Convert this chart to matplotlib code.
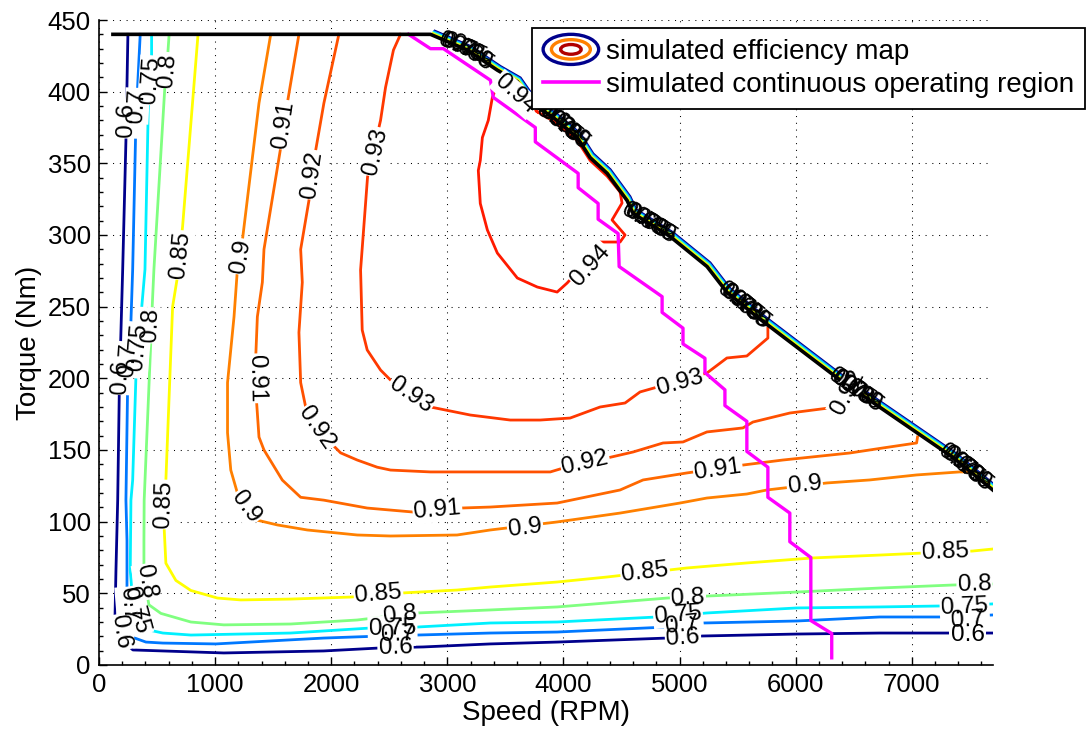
import numpy as np
import matplotlib
matplotlib.use("Agg")
import matplotlib.pyplot as plt
from matplotlib.patches import Ellipse
from matplotlib.legend_handler import HandlerBase
from matplotlib.lines import Line2D
from matplotlib.transforms import ScaledTranslation
from matplotlib.ticker import MultipleLocator

plt.rcParams['font.family'] = ['Liberation Sans', 'DejaVu Sans']

# ---------------------------------------------------------------- data
levels = [0.6, 0.7, 0.75, 0.8, 0.85, 0.9, 0.91, 0.92, 0.93, 0.94]

# efficiency iso-lines (speed in RPM, torque in Nm)
speed_060 = [249, 232, 204, 175, 161, 146, 138, 163, 258, 292, 550, 1075, 1935, 2425, 2794,
             3370, 3946, 4892, 5176, 6010, 6724, 7351, 7695]
torque_060 = [440, 366, 276, 192, 115, 66, 34, 21, 13, 10.5, 9.8, 8.4, 9.8, 11.9, 12.6,
              14.7, 16.0, 18.8, 20.2, 21.6, 22.3, 22.3, 22.3]

speed_070 = [355, 318, 290, 269, 247, 232, 241, 241, 258, 301, 404, 550, 1006, 1935, 2425,
             3370, 3946, 4892, 5202, 6010, 6724, 7351, 7695]
torque_070 = [440, 380, 276, 225, 197, 115, 87, 45, 28, 19, 16, 15.3, 14.7, 18.8, 20.2,
              22.3, 23.0, 26.5, 29.3, 30.7, 33.5, 33.5, 34.9]

speed_075 = [453, 453, 424, 396, 361, 318, 290, 275, 269, 290, 340, 430, 550, 791, 1651,
             2339, 2743, 3370, 3946, 4806, 5236, 6010, 6724, 7265, 7695]
torque_075 = [440, 422, 387, 276, 243, 201, 129, 115, 66, 45, 30, 24.4, 22.3, 20.9, 22.3,
              25.8, 26.5, 29.3, 30.0, 33.5, 36.3, 39.8, 40.5, 41.2, 42.6]

speed_080 = [604, 593, 567, 473, 461, 447, 389, 387, 387, 430, 533, 791, 1075, 1651, 2224,
             2740, 3370, 3946, 4376, 4892, 5236, 6010, 6724, 7351, 7695]
torque_080 = [440, 427, 403, 276, 255, 227, 115, 87, 61, 42, 36, 30, 28, 28.6, 31.4,
              36.3, 38.4, 40.5, 43.3, 46.7, 48.1, 50.9, 53.7, 55.8, 56.5]

speed_085 = [853, 720, 676, 634, 576, 562, 576, 662, 791, 1021, 1221, 1651, 2167, 2597, 3084,
             3370, 3946, 4376, 5064, 5580, 6148, 6724, 7093, 7523, 7695]
torque_085 = [440, 306, 271, 250, 129, 94, 71, 59, 52, 46.7, 45.4, 46, 47.4, 50.2, 52.3,
              54.4, 57.9, 61.4, 67.7, 71.2, 74.7, 76.7, 78.1, 79.5, 80.9]

speed_090 = [1479, 1378, 1236, 1192, 1163, 1107, 1107, 1135, 1192, 1365, 1537, 1794, 2224,
             2511, 3084, 3370, 3946, 4488, 5004, 5236, 5580, 5752, 6268, 6638, 7042, 7411, 7520]
torque_090 = [440, 392, 297, 276, 243, 197, 162, 136, 120, 101, 97.7, 94.2, 90.7,
              90, 90.7, 94.2, 99.8, 106, 113, 116.5, 119.3, 122.1, 127, 129.1, 132.6, 134.7, 134.7]

speed_091 = [1722, 1622, 1565, 1421, 1407, 1364, 1350, 1356, 1378, 1421, 1579, 1737, 1937,
             2310, 2708, 3112, 3370, 3946, 4488, 4686, 5064, 5546, 5889, 6466, 6750, 7042, 7050]
torque_091 = [440, 392, 361, 290, 267, 243, 215, 185, 159, 150, 129, 117, 115,
              109.5, 106.7, 109.5, 110.2, 113, 122.1, 129.1, 134, 139.5, 143, 147.9, 151.4, 154.9, 159.1]

speed_092 = [2066, 1937, 1866, 1808, 1737, 1751, 1722, 1737, 1780, 1995, 2081, 2224, 2396,
             2511, 2855, 3284, 3887, 3998, 4376, 4600, 4858, 5030, 5236, 5546, 5632, 5950,
             6354, 6460]
torque_092 = [440, 392, 359, 324, 290, 267, 232, 197, 180, 155, 148, 143, 138,
              136, 134.7, 134.7, 134.7, 137.4, 144.4, 148.6, 154.9, 155.6, 162.6, 165.4, 169.5, 175.8,
              180, 196]

speed_093 = [2597, 2536, 2468, 2425, 2313, 2253, 2267, 2310, 2425, 2511, 2855, 3198, 3542,
             3800, 4058, 4316, 4531, 4660, 5236, 5408, 5580, 5761, 5761]
torque_093 = [440, 429, 403, 380, 340.5, 275.6, 233.7, 219.8, 205.8, 198.8, 180, 174.4, 170.9,
              170.9, 172.3, 180, 182.8, 190.5, 203.7, 214.2, 215.6, 228.1, 235.1]

speed_094 = [3775, 3456, 3413, 3388, 3353, 3302, 3284, 3267, 3284, 3345, 3431, 3603, 3775,
             3946, 4032, 4290, 4316, 4488, 4531, 4419, 4505, 4488, 4377, 4230, 4119, 3912, 3775]
torque_094 = [386, 409, 401, 396, 380, 368, 352, 345, 322, 303.5, 287.4, 270, 263.7,
              260.2, 266.5, 289.5, 295.1, 295.1, 300, 310.5, 322.3, 330, 341, 352, 366, 379.5, 386]

# inline label positions for each iso-line (speed, torque)
labels_060 = [(232, 380), (181, 201), (189, 23), (2554, 11.9), (5030, 18.8), (7480, 20.9)]
labels_070 = [(327, 390), (249, 213), (249, 42), (2571, 21.6), (5021, 27.9), (7480, 31.4)]
labels_075 = [(447, 408), (335, 222), (318, 38), (2528, 25.8), (4987, 34.9), (7455, 40.5)]
labels_080 = [(593, 415), (447, 237), (404, 58), (2597, 34.9), (5073, 46.7), (7541, 55.8)]
labels_085 = [(705, 286), (559, 112), (2407, 49.5), (4703, 64.9), (7291, 78.8)]
labels_090 = [(1221, 285), (1264, 110), (3671, 95.6), (6079, 125.6)]
labels_091 = [(1591, 377), (1359, 200), (2915, 108), (5331, 136)]
labels_092 = [(1840, 342), (1874, 165), (4187, 141), (6448, 190)]
labels_093 = [(2382, 358), (2683, 188), (5004, 196.7)]
labels_094 = [(3585, 398), (4230, 279)]

# maximum torque envelope
speed_env = [120, 2855, 3173, 3431, 3603, 3740, 3912, 4119, 4230, 4377, 4549, 4600, 4918,
             5237, 5409, 5666, 6380, 7352, 7700]
torque_env = [440, 440, 429, 415, 407, 391, 382, 368, 354, 343, 324, 315, 299,
              278, 260, 243, 199, 145, 122]

# label groups where the iso-lines crowd against the envelope
crowd_speeds = [3155, 3990, 4729, 5546, 6509, 7455]

# continuous operating region
speed_cont = [2666, 2855, 2966, 3371, 3396, 3758, 3758, 4127, 4127, 4299, 4299, 4471, 4480,
              4850, 4850, 5030, 5030, 5219, 5219, 5391, 5391, 5580, 5580, 5761, 5761,
              5950, 5950, 6131, 6131, 6311, 6311]
torque_cont = [440, 430, 430, 408, 396, 375, 365, 343, 333, 322, 311, 301, 278,
               257, 246, 235, 224, 214, 204, 192, 181, 170, 149, 138, 117,
               106, 86, 75, 31, 22, 5]

# ---------------------------------------------------------------- styling
level_colors = ['#00008c', '#0078ff', '#00f0ff', '#80ff80', '#ffff00',
                '#ff8000', '#ff6800', '#ff5000', '#ff3800', '#ff1a00']
iso_speed = [speed_060, speed_070, speed_075, speed_080, speed_085,
             speed_090, speed_091, speed_092, speed_093, speed_094]
iso_torque = [torque_060, torque_070, torque_075, torque_080, torque_085,
              torque_090, torque_091, torque_092, torque_093, torque_094]
iso_labels = [labels_060, labels_070, labels_075, labels_080, labels_085,
              labels_090, labels_091, labels_092, labels_093, labels_094]

W, H = 1091, 733
fig = plt.figure(figsize=(W / 100, H / 100), dpi=100)
ax = fig.add_axes([99 / W, 1 - 665 / H, (993 - 99) / W, (665 - 20) / H])
ax.set_xlim(0, 7700)
ax.set_ylim(0, 450)

ax.xaxis.set_major_locator(MultipleLocator(1000))
ax.yaxis.set_major_locator(MultipleLocator(50))
ax.xaxis.set_minor_locator(MultipleLocator(200))
ax.yaxis.set_minor_locator(MultipleLocator(10))
ax.tick_params(which='both', direction='in', top=False, right=False, labelsize=18.5,
               width=1.0, colors='black')
ax.tick_params(which='major', length=6, pad=6)
ax.tick_params(which='minor', length=3)
for side in ('top', 'right'):
    ax.spines[side].set_visible(False)
for side in ('left', 'bottom'):
    ax.spines[side].set_linewidth(1.2)
ax.grid(True, which='major', color='black', linestyle=(0, (1, 5.5)), linewidth=0.75)
ax.set_axisbelow(True)

ax.set_xlabel('Speed (RPM)', fontsize=20, labelpad=2)
ax.set_ylabel('Torque (Nm)', fontsize=20, labelpad=4)

LABEL_FS = 17.5


def line_angle(xs, ys, x0, y0):
    """Screen angle of the polyline segment nearest to (x0, y0), kept upright."""
    pts = ax.transData.transform(np.column_stack([xs, ys]))
    p = ax.transData.transform((x0, y0))
    best_d, best_v = np.inf, np.array([1.0, 0.0])
    for a, b in zip(pts[:-1], pts[1:]):
        v = b - a
        L2 = v @ v
        if L2 == 0:
            continue
        t = np.clip(((p - a) @ v) / L2, 0, 1)
        d = np.linalg.norm(a + t * v - p)
        if d < best_d:
            best_d, best_v = d, v
    ang = np.degrees(np.arctan2(best_v[1], best_v[0]))
    if ang > 90:
        ang -= 180
    elif ang < -90:
        ang += 180
    return ang


# crowded iso-lines hugging the sloped part of the envelope (outermost = lowest)
slope_speed = speed_env[1:]
slope_torque = torque_env[1:]
nx, ny = 0.63, 0.78
band_offsets = [5.4, 4.4, 3.5, 2.7, 2.0]
for lvl_color, off in zip(level_colors[:5], band_offsets):
    tr = ax.transData + ScaledTranslation(nx * off / 100, ny * off / 100, fig.dpi_scale_trans)
    ax.plot(slope_speed, slope_torque, color=lvl_color, lw=1.2, transform=tr,
            solid_capstyle='butt', zorder=3)

# iso-efficiency lines
for xs, ys, col in zip(iso_speed, iso_torque, level_colors):
    ax.plot(xs, ys, color=col, lw=2.0, solid_joinstyle='round', zorder=2)

# inline labels: white gaps in the lines first, then all the text on top
for lvl, xs, ys, labs in zip(levels, iso_speed, iso_torque, iso_labels):
    for (lx, ly) in labs:
        ang = line_angle(xs, ys, lx, ly)
        kw = dict(rotation=ang, rotation_mode='anchor', ha='center', va='center',
                  fontsize=LABEL_FS)
        ax.text(lx, ly, f'{lvl:g}', color='none', zorder=5,
                bbox=dict(boxstyle='square,pad=0.05', fc='white', ec='none'), **kw)
        ax.text(lx, ly, f'{lvl:g}', color='black', zorder=7, **kw)

# envelope and continuous region
ax.plot(speed_cont, torque_cont, color='#ff00ff', lw=2.4, zorder=4)
ax.plot(speed_env, torque_env, color='black', lw=2.6, zorder=4, solid_joinstyle='round')

# crowded labels along the envelope
for cs in crowd_speeds:
    for i, lvl in enumerate(levels[:6]):
        s = cs + (i - 2.5) * 35
        t = np.interp(s, speed_env, torque_env)
        ang = line_angle(speed_env, torque_env, s, t)
        ax.text(s, t, f'{lvl:g}', rotation=ang, rotation_mode='anchor',
                ha='center', va='center', fontsize=LABEL_FS, color='black', zorder=6)


# legend with concentric-ellipse symbol for the efficiency map
class RingsHandler(HandlerBase):
    def create_artists(self, legend, orig_handle, xdescent, ydescent, width, height,
                       fontsize, trans):
        cx = 0.5 * width - xdescent
        cy = 0.5 * height - ydescent
        rings = [(1.0, 1.55, '#00008c'), (0.70, 1.0, '#ff8000'), (0.37, 0.5, '#b00000')]
        arts = []
        for fw, fh, c in rings:
            arts.append(Ellipse((cx, cy), width * fw, height * fh, fill=False, ec=c,
                                lw=2.4, transform=trans))
        return arts


map_handle = Line2D([], [])
cont_handle = Line2D([], [], color='#ff00ff', lw=2.6)
leg = ax.legend([map_handle, cont_handle],
                ['simulated efficiency map', 'simulated continuous operating region'],
                handler_map={map_handle: RingsHandler()},
                loc='upper left', bbox_to_anchor=(532 / W, 1 - 28 / H),
                bbox_transform=fig.transFigure, borderaxespad=0, fontsize=20,
                handlelength=2.0, handletextpad=0.25, labelspacing=0.25, borderpad=0.4,
                fancybox=False, framealpha=1, edgecolor='black')
leg.get_frame().set_linewidth(1.3)
leg.set_zorder(10)

fig.savefig('out.png', dpi=100)
